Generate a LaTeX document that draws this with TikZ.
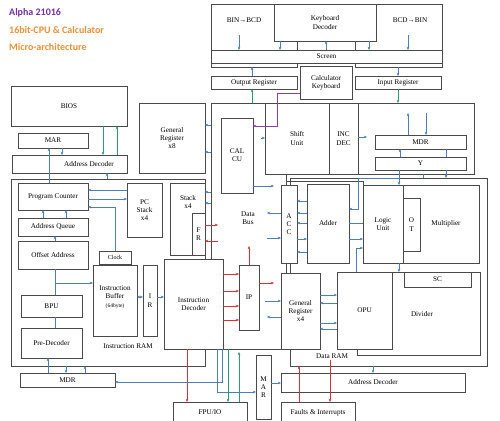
\documentclass[tikz,border=0pt]{standalone}
\usepackage{fontspec}
\setmainfont{Liberation Serif}
\newfontfamily\titlefont{Carlito}
\usetikzlibrary{arrows.meta}
\definecolor{boxc}{HTML}{4A4A4A}
\definecolor{bluec}{HTML}{4C7FB8}
\definecolor{redc}{HTML}{D83232}
\definecolor{greenc}{HTML}{2E9A70}
\definecolor{purpc}{HTML}{8B3FA6}
\definecolor{titlep}{HTML}{7030A0}
\definecolor{titleo}{HTML}{E8913A}
\newcommand{\rbox}[7][]{\node[box,#1,minimum width={(#5-#3)*1pt},minimum height={(#6-#4)*1pt}] (#2) at ({(#3+#5)/2},{(#4+#6)/2}) {#7};}
\begin{document}
\begin{tikzpicture}[x=1pt,y=-1pt,
  box/.style={draw=boxc,fill=white,line width=0.6pt,inner sep=0.5pt,outer sep=0pt,align=center,font=\fontsize{7.2}{8.3}\selectfont},
  lbl/.style={inner sep=0pt,outer sep=0pt,align=center,font=\fontsize{7.2}{8.3}\selectfont},
  gl/.style={draw=boxc,line width=0.6pt},
  tip/.style={-{Stealth[length=3.2pt,width=2.6pt]}},
  ba/.style={draw=bluec,line width=0.6pt,tip},
  bb/.style={draw=bluec,line width=0.6pt,{Stealth[length=3.2pt,width=2.6pt]}-{Stealth[length=3.2pt,width=2.6pt]}},
  bl/.style={draw=bluec,line width=0.6pt},
  ra/.style={draw=redc,line width=0.7pt,tip},
  ga/.style={draw=greenc,line width=0.7pt,tip},
  pa/.style={draw=purpc,line width=0.7pt,tip},
  ttl/.style={anchor=west,inner sep=0pt,font=\titlefont\bfseries\fontsize{10}{11}\selectfont}]
\useasboundingbox (0,0) rectangle (500,420);
\fill[white] (0,0) rectangle (500,420);
\clip (0,0) rectangle (500,420);

% titles
\node[ttl,text=titlep] (title1) at (9,13) {Alpha 21016};
\node[ttl,text=titleo] (title2) at (9,30) {16bit-CPU \& Calculator};
\node[ttl,text=titleo] (title3) at (9,47) {Micro-architecture};

% frames
\rbox[fill=none]{iram}{11}{179}{205}{366}{}
\rbox[fill=none]{f1}{290}{178}{487}{366}{}
\draw[gl] (281,349) -- (211,349) -- (211,103) -- (474,103) -- (474,174) -- (265,174);
\node[inner sep=0pt,outer sep=0pt,minimum width=263pt,minimum height=71pt] (core) at (342.5,138.5) {};

% top
\rbox{binbcd}{211}{4}{297}{67}{}
\rbox{bcdbin}{355}{4}{442}{67}{}
\rbox{kbd}{274}{4}{376}{41}{Keyboard\\Decoder}
\rbox{screen}{211}{50}{442}{63}{Screen}
\rbox{outreg}{211}{76}{297}{89}{Output Register}
\rbox{inreg}{355}{76}{441}{89}{Input Register}
\rbox{calkbd}{300}{66}{352}{99}{Calculator\\Keyboard}
\node[lbl] (binlbl) at (244,20) {BIN→BCD};
\node[lbl] (bcdlbl) at (410,20) {BCD→BIN};

% left
\rbox{bios}{11}{86}{127}{126}{BIOS}
\rbox{mar1}{18}{133}{88}{148}{MAR}
\rbox{addrdec1}{12}{155}{127}{173}{}
\node[lbl] (adlbl1) at (89,164) {Address Decoder};
\rbox{gr8}{139}{103}{205}{173}{General\\Register\\x8}
\rbox{pc}{18}{183}{88}{210}{Program Counter}
\rbox{pcstack}{127}{183}{162}{237}{PC\\Stack\\x4}
\rbox{aq}{18}{218}{88}{236}{Address Queue}
\rbox{offs}{18}{241}{88}{269}{Offset Address}
\rbox[font=\fontsize{6}{7}\selectfont]{clock}{99}{251}{131}{264}{Clock}
\rbox{ib}{93}{265}{137}{336}{}
\node[lbl] (iblbl) at (115,297) {Instruction\\Buffer\\{\fontsize{5.5}{6}\selectfont(64byte)}};
\rbox{ir}{143}{265}{157}{336}{I\\R}
\rbox{bpu}{21}{295}{82}{317}{BPU}
\rbox{predec}{21}{328}{82}{358}{Pre-Decoder}
\rbox{mdr1}{20}{373}{115}{387}{MDR}
\node[lbl] (iramlbl) at (128,346) {Instruction RAM};
\rbox{stack}{170}{183}{205}{255}{}
\node[lbl] (stacklbl) at (188,202) {Stack\\x4};
\rbox{fr}{192}{213}{205}{255}{F\\R}

% centre
\rbox{calcu}{221}{118}{253}{193}{CAL\\CU}
\rbox{shift}{265}{103}{329}{174}{Shift\\Unit}
\rbox{incdec}{329}{103}{358}{174}{INC\\DEC}
\rbox{mdr2}{375}{135}{466}{149}{MDR}
\rbox{ybox}{375}{157}{466}{170}{Y}
\node[lbl] (dblbl) at (248,218) {Data\\Bus};
\rbox{id}{164}{259}{223}{349}{Instruction\\Decoder}
\rbox{ip}{239}{265}{259}{330}{IP}
\rbox{acc}{281}{185}{297}{263}{A\\C\\C}
\rbox{gr4}{281}{273}{320}{349}{General\\Register\\x4}
\rbox{adder}{307}{184}{349}{263}{Adder}
\rbox{logic}{363}{185}{403}{263}{Logic\\Unit}
\rbox{mult}{403}{185}{479}{263}{}
\node[lbl] (multlbl) at (446,224) {Multiplier};
\rbox{ot}{403}{198}{420}{251}{O\\T}
\rbox{divider}{357}{272}{480}{355}{}
\node[lbl] (divlbl) at (422,314) {Divider};
\rbox{opu}{337}{272}{392}{349}{OPU}
\rbox{sc}{404}{272}{471}{287}{SC}
\node[lbl] (dramlbl) at (332,356) {Data RAM};

% bottom
\rbox{addrdec2}{281}{373}{465}{392}{Address Decoder}
\rbox{mar2}{256}{355}{271}{419}{M\\A\\R}
\rbox{fpu}{173}{402}{247}{423}{FPU/IO}
\rbox{faults}{281}{402}{355}{423}{Faults \& Interrupts}

% free ends
\coordinate (cbin) at (239,35);
\coordinate (cbcd) at (408,35);
\coordinate (cbr) at (55,283);
\coordinate (cfr1) at (218,225);
\coordinate (cfr2) at (218,241);
\coordinate (ccal) at (274,186);
\coordinate (cacc1) at (267,213);
\coordinate (cacc2) at (267,238);
\coordinate (cshift) at (261,138);
\coordinate (cip1) at (249,246);
\coordinate (cip2) at (274,283);
\coordinate (cgr1) at (265,301);
\coordinate (cgr2) at (267,317);
\coordinate (cmdr1) at (408,113);
\coordinate (cmdr2) at (426,113);
\coordinate (cinc) at (367,137);
\coordinate (cy) at (399,178);
\coordinate (cg1) at (228,349);
\coordinate (cg2) at (239,352);
\coordinate (cred) at (330,360);

% top connectors
\draw[ba] (cbin) -- (screen.north -| cbin);
\draw[ba] (kbd.south -| 280,0) -- (screen.north -| 280,0);
\draw[ba] (screen.north -| 326,0) -- (kbd.south -| 326,0);
\draw[ba] (kbd.south -| 369,0) -- (screen.north -| 369,0);
\draw[ba] (cbcd) -- (screen.north -| cbcd);
\draw[ba] (outreg.north -| 252,0) -- (binbcd.south -| 252,0);
\draw[ba] (bcdbin.south -| 398,0) -- (inreg.north -| 398,0);
\draw[ga] (core.north -| 252,0) -- (outreg.south -| 252,0);
\draw[ga] (inreg.south -| 398,0) -- (core.north -| 398,0);
\draw[pa] (calkbd.west |- 0,93) -| (277,126) -- (calcu.east |- 0,126);

% BIOS area
\draw[ga] (bios.south -| 103,0) -- (addrdec1.north -| 103,0);
\draw[ga] (addrdec1.north -| 117,0) -- (bios.south -| 117,0);
\draw[ba] (pc.north -| 49,0) -- (mar1.south -| 49,0);
\draw[ba] (mar1.south -| 62,0) -- (addrdec1.north -| 62,0);
\draw[ba] (iram.north -| 107,0) -- (addrdec1.south -| 107,0);
\draw[ba] (core.west |- 0,125) -- (gr8.east |- 0,125);
\draw[ba] (core.west |- 0,152) -- (gr8.east |- 0,152);

% left column
\draw[ba] (pcstack.west |- 0,190) -- (pc.east |- 0,190);
\draw[ba] (pc.east |- 0,199) -- (pcstack.west |- 0,199);
\draw[ba] (clock.north -| 115,0) |- (pc.east |- 0,207);
\draw[ba] (aq.north -| 43,0) -- (pc.south -| 43,0);
\draw[ba] (aq.north -| 66,0) -- (pc.south -| 66,0);
\draw[ba] (offs.north -| 55,0) -- (aq.south -| 55,0);
\draw[bl] (offs.south -| 55,0) -- (bpu.north -| 55,0);
\draw[ba] (cbr) -- (ib.west |- cbr);
\draw[bl] (bpu.south -| 55,0) -- (predec.north -| 55,0);
\draw[ba] (mdr1.north -| 48,0) -- (predec.south -| 48,0);
\draw[ba] (iram.south -| 66,0) -- (mdr1.north -| 66,0);
\draw[ba] (mdr1.north -| 85,0) -- (iram.south -| 85,0);
\draw[bb] (ib.east |- 0,297) -- (ir.west |- 0,297);
\draw[ba] (ir.east |- 0,297) -- (id.west |- 0,297);
\draw[ba] (core.west |- 0,192) -- (stack.east |- 0,192);
\draw[ba] (core.west |- 0,203) -- (stack.east |- 0,203);
\draw[ra] (fr.east |- cfr1) -- (cfr1);
\draw[ra] (cfr2) -- (fr.east |- cfr2);

% data bus
\draw[ba] (calcu.east |- ccal) -- (ccal);
\draw[ba] (acc.west |- cacc1) -- (cacc1);
\draw[ba] (cacc2) -- (acc.west |- cacc2);
\draw[ba] (cshift) -- (shift.west |- cshift);
\foreach \yy in {274,291,306,320} {\draw[ra] (id.east |- 0,\yy) -- (ip.west |- 0,\yy);}
\draw[ra] (ip.north -| cip1) -- (cip1);
\draw[ra] (ip.east |- cip2) -- (cip2);
\draw[ba] (cgr1) -- (gr4.west |- cgr1);
\draw[ba] (gr4.west |- cgr2) -- (cgr2);
\draw[gl] (shift.south -| 286,0) -- (acc.north -| 286,0);
\draw[gl] (acc.south -| 286,0) -- (gr4.north -| 286,0);
\draw[gl] (286,181) -| (logic.north -| 363,0);

% ACC / adder / logic
\foreach \yy in {201,213,223,252} {\draw[ba] (adder.west |- 0,\yy) -- (acc.east |- 0,\yy);}
\draw[ba] (acc.east |- 0,239) -- (adder.west |- 0,239);
\draw[bl] (adder.east |- 0,223) -- (logic.west |- 0,223);
\draw[ba] (adder.east |- 0,239) -- (logic.west |- 0,239);
\draw[ba] (opu.north -| 356,0) |- (logic.west |- 0,248);
\draw[ba] (logic.south -| 399,0) -- (divider.north -| 399,0);

% MDR / Y
\draw[ba] (mdr2.north -| cmdr1) -- (cmdr1);
\draw[ba] (cmdr2) -- (mdr2.north -| cmdr2);
\draw[ba] (incdec.east |- cinc) -- (cinc);
\draw[ba] (ybox.north -| 400,0) -- (mdr2.south -| 400,0);
\draw[bl] (mdr2.south -| 446,0) -- (ybox.north -| 446,0);
\draw[ba] (ybox.south -| 399,0) -- (logic.north -| 399,0);
\draw[ba] (cy) -| (358,209) -- (adder.east |- 0,209);
\draw[ba] (ybox.south -| 446,0) -- (f1.north -| 446,0);
\draw[bl] (core.south -| 423,0) -- (f1.north -| 423,0);

% GR x4 / OPU
\draw[ba] (gr4.east |- 0,295) -- (opu.west |- 0,295);
\draw[ba] (opu.west |- 0,303) -- (gr4.east |- 0,303);
\draw[ba] (gr4.east |- 0,323) -- (opu.west |- 0,323);
\draw[ba] (opu.west |- 0,329) -- (gr4.east |- 0,329);

% bottom
\draw[ra] (id.south -| 187,0) -- (fpu.north -| 187,0);
\draw[ba] (id.south -| 217,0) |- (mar2.west |- 0,392);
\draw[ba] (id.south -| 222,0) |- (mdr1.east |- 0,382);
\draw[ga] (cg1) -- (fpu.north -| cg1);
\draw[ga] (fpu.north -| cg2) -- (cg2);
\draw[ba] (mar2.east |- 0,383) -- (addrdec2.west |- 0,383);
\draw[ra] (faults.north -| 299,0) -- (f1.south -| 299,0);
\draw[ra] (cred) -- (faults.north -| cred);
\draw[ba] (f1.south -| 373,0) -- (addrdec2.north -| 373,0);
\end{tikzpicture}
\end{document}
